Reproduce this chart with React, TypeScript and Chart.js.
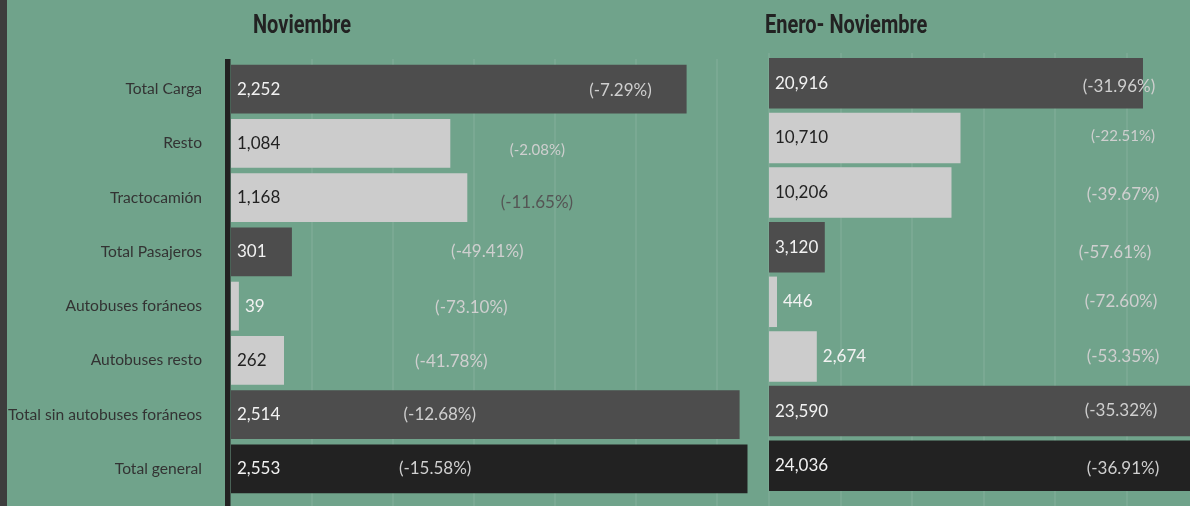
import { useEffect, useRef } from "react";
import { Chart, registerables } from "chart.js";

Chart.register(...registerables);

// ---------- data ----------
const categories = [
  "Total Carga",
  "Resto",
  "Tractocamión",
  "Total Pasajeros",
  "Autobuses foráneos",
  "Autobuses resto",
  "Total sin autobuses foráneos",
  "Total general",
];
const novValues = [2252, 1084, 1168, 301, 39, 262, 2514, 2553];
const novPct = [-7.29, -2.08, -11.65, -49.41, -73.1, -41.78, -12.68, -15.58];
// value (in axis units) where each variation label is anchored
const novPctAnchor = [1925, 1514, 1512, 1267, 1188, 1089, 1032, 1009];
const eneNovValues = [20916, 10710, 10206, 3120, 446, 2674, 23590, 24036];
const eneNovPct = [-31.96, -22.51, -39.67, -57.61, -72.6, -53.35, -35.32, -36.91];
const eneNovPctAnchor = [19574, 19798, 19798, 19350, 19686, 19798, 19686, 19798];
const novGridTicks = [400, 800, 1200, 1600, 2000, 2400];
const eneNovGridTicks = [0, 4000, 8000, 12000, 16000, 20000];
const novTitle = "Noviembre";
const eneNovTitle = "Enero- Noviembre";

// ---------- styles ----------
const BG = "#70a38b";
const DARK = "#4d4d4d";
const LIGHT = "#cccccc";
const BLACK = "#222222";
const barColors = [DARK, LIGHT, LIGHT, DARK, LIGHT, LIGHT, DARK, BLACK];
const FONT = 'Lato, "Noto Sans", sans-serif';
const TITLE_FONT = 'Roboto, "Noto Sans", sans-serif';
const TITLE_NARROW = 0.8; // horizontal condensing of the title face
const novPctColors = ["#cfcfcf", "#cfcfcf", "#555555", "#cfcfcf", "#cfcfcf", "#cfcfcf", "#cfcfcf", "#cfcfcf"];
const eneNovPctColors = ["#cfcfcf", "#cfcfcf", "#cfcfcf", "#cfcfcf", "#cfcfcf", "#cfcfcf", "#cfcfcf", "#cfcfcf"];
const pctSizes = [17, 15, 17, 17, 17, 17, 17, 17];
const novPctDy = [1, 7, 5, 0, 1, 1, 0, 0];
const eneNovPctDy = [3, -2, 2, 5, 0, 0, -1, 3];

const fmt = (v: number) => v.toLocaleString("en-US");
const fmtPct = (v: number) => `(${v.toFixed(2)}%)`;

function makePlugin(cfg: any) {
  return {
    id: "custom_" + cfg.key,
    beforeDatasetsDraw(chart: any) {
      const ctx = chart.ctx;
      const xs = chart.scales.x;
      ctx.save();
      ctx.strokeStyle = "rgba(255,255,255,0.075)";
      ctx.lineWidth = 2;
      cfg.gridTicks.forEach((v: number) => {
        const px = Math.round(xs.getPixelForValue(v));
        ctx.beginPath();
        ctx.moveTo(px, cfg.gridTop);
        ctx.lineTo(px, chart.height);
        ctx.stroke();
      });
      ctx.restore();
    },
    afterDatasetsDraw(chart: any) {
      const ctx = chart.ctx;
      const xs = chart.scales.x;
      const meta = chart.getDatasetMeta(0);
      ctx.save();
      if (cfg.axisLine) {
        ctx.fillStyle = BLACK;
        ctx.fillRect(chart.chartArea.left - 6, cfg.gridTop, 5.5, chart.height - cfg.gridTop);
      }
      ctx.textBaseline = "middle";
      meta.data.forEach((el: any, i: number) => {
        const txt = fmt(cfg.values[i]);
        ctx.font = `17px ${FONT}`;
        const w = ctx.measureText(txt).width;
        const barLen = el.x - el.base;
        ctx.textAlign = "left";
        if (barLen >= w + 12) {
          ctx.fillStyle = barColors[i] === LIGHT ? "#222222" : "#f2f2f2";
          ctx.fillText(txt, el.base + 6, el.y);
        } else {
          ctx.fillStyle = "#f2f2f2";
          ctx.fillText(txt, el.x + 6, el.y);
        }
        ctx.font = `${pctSizes[i]}px ${FONT}`;
        ctx.textAlign = "center";
        ctx.fillStyle = cfg.pctColors[i];
        ctx.fillText(fmtPct(cfg.pct[i]), xs.getPixelForValue(cfg.anchors[i]), el.y + cfg.pctDy[i]);
      });
      ctx.font = `bold 25px ${TITLE_FONT}`;
      ctx.fillStyle = BLACK;
      ctx.textBaseline = "alphabetic";
      ctx.textAlign = "left";
      const tw = ctx.measureText(cfg.title).width * TITLE_NARROW;
      const tx = cfg.titleAlign === "center" ? cfg.titleX - tw / 2 : cfg.titleX;
      ctx.translate(tx, 33);
      ctx.scale(TITLE_NARROW, 1);
      ctx.fillText(cfg.title, 0, 0);
      ctx.restore();
    },
  };
}

function makeConfig(cfg: any): any {
  return {
    type: "bar",
    data: {
      labels: categories,
      datasets: [
        {
          data: cfg.values,
          backgroundColor: barColors,
          borderWidth: 0,
          barPercentage: cfg.barPct,
          categoryPercentage: 1,
        },
      ],
    },
    options: {
      indexAxis: "y",
      animation: false,
      responsive: false,
      maintainAspectRatio: false,
      layout: { padding: cfg.padding },
      plugins: { legend: { display: false }, tooltip: { enabled: false }, title: { display: false } },
      scales: {
        x: { type: "linear", min: 0, max: cfg.max, display: false, grid: { display: false } },
        y: {
          display: cfg.showY,
          grid: { display: false, drawTicks: false },
          border: { display: false },
          ticks: { color: "#333333", font: { family: FONT, size: 15.6 }, padding: 29 },
          afterFit: (s: any) => {
            if (cfg.yWidth) s.width = cfg.yWidth;
            s.paddingTop = 0;
            s.paddingBottom = 0;
          },
        },
      },
    },
    plugins: [makePlugin(cfg)],
  };
}

export default function App() {
  const leftRef = useRef<HTMLCanvasElement>(null);
  const rightRef = useRef<HTMLCanvasElement>(null);
  useEffect(() => {
    const left = new Chart(
      leftRef.current as HTMLCanvasElement,
      makeConfig({
        key: "nov",
        values: novValues,
        pct: novPct,
        anchors: novPctAnchor,
        pctColors: novPctColors,
        pctDy: novPctDy,
        gridTicks: novGridTicks,
        gridTop: 59,
        axisLine: true,
        max: 2600,
        barPct: 0.9,
        padding: { left: 0, right: 0, top: 62, bottom: 10 },
        showY: true,
        yWidth: 231,
        title: novTitle,
        titleX: 302,
        titleAlign: "center",
      })
    );
    const right = new Chart(
      rightRef.current as HTMLCanvasElement,
      makeConfig({
        key: "enenov",
        values: eneNovValues,
        pct: eneNovPct,
        anchors: eneNovPctAnchor,
        pctColors: eneNovPctColors,
        pctDy: eneNovPctDy,
        gridTicks: eneNovGridTicks,
        gridTop: 53,
        axisLine: false,
        max: 23545,
        barPct: 0.924,
        padding: { left: 9, right: 0, top: 56, bottom: 13 },
        showY: false,
        yWidth: 0,
        title: eneNovTitle,
        titleX: 5,
        titleAlign: "left",
      })
    );
    return () => {
      left.destroy();
      right.destroy();
    };
  }, []);
  return (
    <div
      style={{
        position: "fixed",
        left: 0,
        top: 0,
        width: 1190,
        height: 506,
        background: BG,
        overflow: "hidden",
      }}
    >
      <div style={{ position: "absolute", left: 0, top: 0, width: 7, height: 506, background: "#3d3d3d" }} />
      <canvas ref={leftRef} width={757} height={506} style={{ position: "absolute", left: 0, top: 0 }} />
      <canvas ref={rightRef} width={430} height={506} style={{ position: "absolute", left: 760, top: 0 }} />
    </div>
  );
}
